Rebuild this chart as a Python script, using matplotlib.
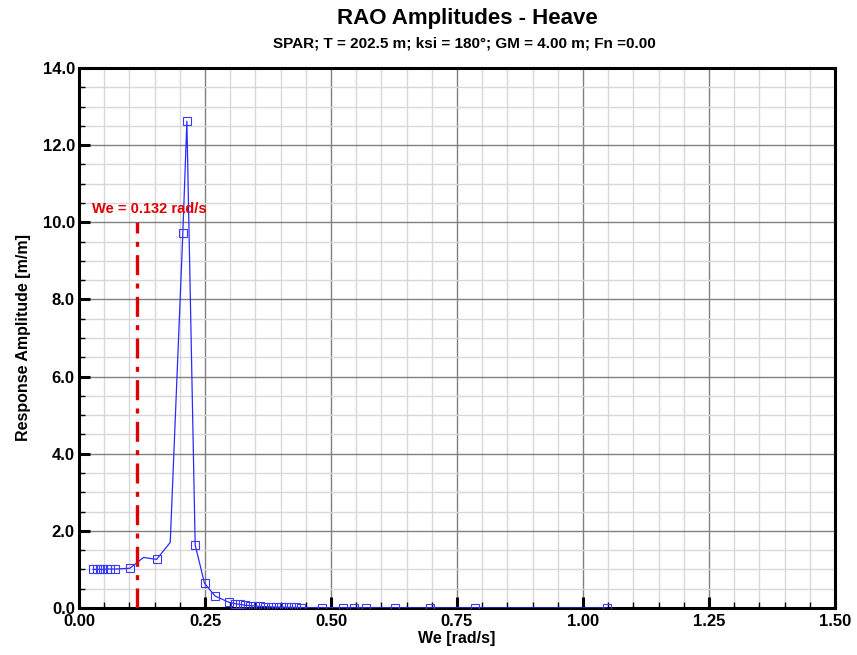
import matplotlib
matplotlib.use("Agg")
import matplotlib.pyplot as plt
from matplotlib.ticker import MultipleLocator, FormatStrFormatter

plt.rcParams['font.family'] = ['Liberation Sans', 'DejaVu Sans']

# Data
we = [0.028, 0.035, 0.042, 0.048, 0.055, 0.062, 0.072, 0.101, 0.128, 0.154,
      0.181, 0.206, 0.214, 0.2305, 0.249, 0.270, 0.297, 0.310, 0.320, 0.330,
      0.340, 0.350, 0.360, 0.370, 0.380, 0.390, 0.400, 0.410, 0.420, 0.430,
      0.440, 0.483, 0.523, 0.545, 0.570, 0.626, 0.697, 0.785, 1.047]
amp = [1.00, 1.00, 1.00, 1.00, 1.01, 1.01, 1.01, 1.03, 1.31, 1.26,
       1.70, 9.71, 12.62, 1.63, 0.64, 0.31, 0.15, 0.11, 0.09, 0.07,
       0.06, 0.05, 0.04, 0.035, 0.03, 0.025, 0.02, 0.02, 0.015, 0.015,
       0.01, 0.01, 0.005, 0.005, 0.005, 0.005, 0.003, 0.003, 0.002]
has_marker = [True] * len(we)
has_marker[8] = False
has_marker[10] = False

we_line = 0.115
we_label = "We = 0.132 rad/s"
title = "RAO Amplitudes - Heave"
subtitle = "SPAR; T = 202.5 m; ksi = 180°; GM = 4.00 m; Fn =0.00"

fig = plt.figure(figsize=(8.57, 6.55), dpi=100)
ax = fig.add_axes([0.0922, 0.0718, 0.8821, 0.8244])

ax.plot(we, amp, color='#2a2aff', lw=0.9, zorder=3)
mx = [w for w, m in zip(we, has_marker) if m]
my = [a for a, m in zip(amp, has_marker) if m]
ax.plot(mx, my, ls='none', marker='s', ms=5.5, mfc='none', mec='#3a3aff', mew=0.8, zorder=4)

ax.plot([we_line, we_line], [0, 10.0], color='#dd0000', lw=2.4, ls=(0, (6, 2.5, 1.5, 2.5)), zorder=3)
ax.text(0.026, 10.35, we_label, color='#dd0000', fontsize=10.5, fontweight='bold', va='center', ha='left')

ax.set_xlim(0, 1.5)
ax.set_ylim(0, 14)
ax.xaxis.set_major_locator(MultipleLocator(0.25))
ax.xaxis.set_minor_locator(MultipleLocator(0.05))
ax.yaxis.set_major_locator(MultipleLocator(2.0))
ax.yaxis.set_minor_locator(MultipleLocator(0.5))
ax.xaxis.set_major_formatter(FormatStrFormatter('%.2f'))
ax.yaxis.set_major_formatter(FormatStrFormatter('%.1f'))

ax.grid(which='minor', color='#d8d8d8', lw=1.0, zorder=0)
ax.grid(which='major', color='#808080', lw=1.0, zorder=1)
ax.set_axisbelow(True)

ax.tick_params(which='major', direction='in', length=8, width=2.2, labelsize=12)
ax.tick_params(axis='x', which='major', pad=4)
ax.tick_params(axis='y', which='major', pad=3)
ax.tick_params(which='minor', direction='in', length=4.5, width=1.0)
ax.tick_params(axis='x', which='both', top=False)
ax.tick_params(axis='y', which='both', right=False)
for lab in ax.get_xticklabels() + ax.get_yticklabels():
    lab.set_fontweight('bold')
for sp in ax.spines.values():
    sp.set_linewidth(2.2)

ax.set_xlabel("We [rad/s]", fontsize=11.5, fontweight='bold', labelpad=1.5)
ax.set_ylabel("Response Amplitude [m/m]", fontsize=11.5, fontweight='bold', labelpad=8)

fig.text(0.545, 0.972, title, ha='center', va='center', fontsize=16, fontweight='bold')
fig.text(0.542, 0.933, subtitle, ha='center', va='center', fontsize=11, fontweight='bold')

fig.savefig("out.png", dpi=100)
